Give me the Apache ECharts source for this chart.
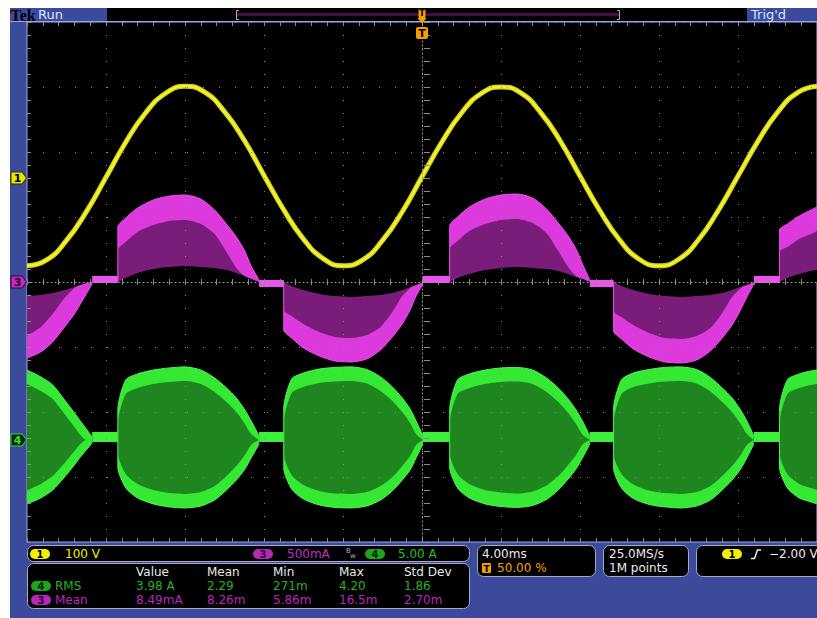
<!DOCTYPE html>
<html><head><meta charset="utf-8">
<script src="https://cdn.jsdelivr.net/npm/echarts@6/dist/echarts.min.js"></script>
<style>html,body{margin:0;padding:0;background:#fff;overflow:hidden}#c{width:817px;height:618px}</style>
</head><body><div id="c"></div><script>
// ---- time base: ms, trigger at 0, 4.00 ms/div ----
const timeMin = -20, timeMax = 20, timeDiv = 4;

// ---- channel 1 (yellow), volts relative to its marker, 100 V/div ----
const ch1Time = [-20,-19,-18,-17,-16,-15,-14,-13,-12,-11,-10,-9,-8,-7,-6,-5,-4,-3,-2,-1,0,1,2,3,4,5,6,7,8,9,10,11,12,13,14,15,16,17,18,19,20];
const ch1Volts = [-135,-126,-96,-52,1,55,100,130,141,132,102,58,4,-49,-94,-124,-135,-126,-96,-52,2,55,100,130,140,131,101,57,3,-50,-95,-125,-135,-125,-95,-50,3,56,101,131,141];

// ---- lobe sample times shared by ch3 and ch4 (null = gap) ----
const lobeTime = [
 -20.0,-19.3,-18.7,-18.1,-17.6,-17.3,-17.0,-16.7,null,
 -15.4,-15.4,-15.0,-14.4,-13.6,-12.8,-12.0,-11.2,-10.5,-9.9,-9.4,-9.0,-8.65,-8.25,null,
 -7.0,-7.0,-6.6,-6.0,-5.2,-4.4,-3.6,-2.8,-2.1,-1.5,-1.0,-0.6,-0.3,0.05,null,
 1.4,1.4,1.8,2.4,3.2,4.0,4.8,5.6,6.3,6.9,7.4,7.8,8.15,8.5,null,
 9.7,9.7,10.1,10.7,11.5,12.3,13.1,13.9,14.6,15.2,15.7,16.1,16.45,16.8,null,
 18.1,18.1,18.5,19.1,19.7,20.0];

// ---- channel 3 (magenta), mA, 500 mA/div ----
const ch3Outer = [
 -585,-538,-461,-346,-246,-169,-92,-15,null,
 0,423,492,569,631,661,669,638,554,446,346,246,123,15,null,
 0,-369,-431,-508,-569,-608,-615,-592,-523,-423,-323,-215,-108,-15,null,
 0,431,500,577,638,669,677,646,562,454,354,254,131,15,null,
 0,-377,-438,-515,-577,-615,-623,-600,-531,-431,-331,-223,-115,-15,null,
 0,400,446,508,554,577];
const ch3Inner = [
 -415,-346,-246,-123,-46,-15,0,0,null,
 0,246,308,385,438,469,477,446,369,231,108,46,15,0,null,
 0,-215,-261,-323,-385,-423,-431,-408,-346,-231,-108,-46,-15,0,null,
 0,254,315,392,446,477,485,454,377,238,115,46,15,0,null,
 0,-223,-269,-331,-392,-431,-438,-415,-354,-238,-115,-54,-15,0,null,
 0,231,269,331,369,392];
const ch3Lower = [
 -108,-100,-85,-62,-38,-23,-8,0,null,
 0,0,31,69,100,115,123,115,108,92,69,46,23,0,null,
 0,0,-31,-62,-92,-108,-115,-108,-100,-85,-62,-38,-23,0,null,
 0,0,31,62,92,108,115,108,100,85,62,38,23,0,null,
 0,0,-31,-62,-92,-108,-115,-108,-100,-85,-62,-38,-23,0,null,
 0,0,31,62,85,92];

// ---- channel 4 (green), A, 5.00 A/div ----
const ch4TopOuter = [
 5.38,4.85,4.23,3.08,2.08,1.46,0.85,0.23,null,
 0,2.31,4.62,5.08,5.38,5.54,5.62,5.38,4.77,4.0,3.23,2.38,1.46,0.31,null,
 0,2.38,4.69,5.15,5.46,5.58,5.62,5.42,4.85,4.08,3.23,2.38,1.46,0.31,null,
 0,2.31,4.62,5.08,5.38,5.54,5.58,5.38,4.77,4.0,3.15,2.31,1.38,0.31,null,
 0,2.38,4.62,5.15,5.42,5.58,5.62,5.42,4.81,4.0,3.23,2.38,1.46,0.31,null,
 0,2.31,4.62,5.08,5.31,5.38];
const ch4TopInner = [
 4.31,3.77,3.15,2.0,1.0,0.38,0,0,null,
 0,1.23,3.54,4.0,4.31,4.46,4.54,4.31,3.69,2.92,2.15,1.31,0.46,0,null,
 0,1.31,3.62,4.08,4.38,4.50,4.54,4.35,3.77,3.0,2.15,1.31,0.46,0,null,
 0,1.23,3.54,4.0,4.31,4.46,4.50,4.31,3.69,2.92,2.08,1.23,0.38,0,null,
 0,1.31,3.54,4.08,4.35,4.50,4.54,4.35,3.73,2.92,2.15,1.31,0.46,0,null,
 0,1.23,3.54,4.0,4.23,4.31];
const ch4BotOuter = [
 -4.92,-4.46,-3.85,-2.85,-1.92,-1.31,-0.77,-0.23,null,
 0,-2.08,-3.69,-4.46,-4.92,-5.15,-5.23,-5.08,-4.62,-3.85,-3.08,-2.31,-1.38,-0.31,null,
 0,-2.15,-3.77,-4.54,-5.0,-5.19,-5.23,-5.08,-4.62,-3.92,-3.08,-2.31,-1.38,-0.31,null,
 0,-2.08,-3.69,-4.46,-4.92,-5.12,-5.19,-5.04,-4.58,-3.85,-3.0,-2.23,-1.31,-0.31,null,
 0,-2.15,-3.69,-4.50,-4.96,-5.15,-5.23,-5.08,-4.62,-3.85,-3.08,-2.31,-1.38,-0.31,null,
 0,-2.08,-3.69,-4.46,-4.77,-4.92];
const ch4BotInner = [
 -3.85,-3.38,-2.77,-1.77,-0.85,-0.31,0,0,null,
 0,-1.0,-2.62,-3.38,-3.85,-4.08,-4.15,-4.0,-3.54,-2.77,-2.0,-1.23,-0.38,0,null,
 0,-1.08,-2.69,-3.46,-3.92,-4.12,-4.15,-4.0,-3.54,-2.85,-2.0,-1.23,-0.38,0,null,
 0,-1.0,-2.62,-3.38,-3.85,-4.04,-4.12,-3.96,-3.50,-2.77,-1.92,-1.15,-0.31,0,null,
 0,-1.08,-2.62,-3.42,-3.88,-4.08,-4.15,-4.0,-3.54,-2.77,-2.0,-1.23,-0.38,0,null,
 0,-1.0,-2.62,-3.38,-3.69,-3.85];

// ---- flat segments between lobes ----
const barTime = [-16.7,-15.4,null,-8.25,-7.0,null,0.05,1.4,null,8.5,9.7,null,16.8,18.1];
const ch3Bar = [19,19,null,-12,-12,null,19,19,null,-12,-12,null,19,19];
const ch4Bar = [0.23,0.23,null,0.23,0.23,null,0.23,0.23,null,0.23,0.23,null,0.23,0.23];

// ---- measurement readouts ----
const measHeaders = ['Value','Mean','Min','Max','Std Dev'];
const measRms = ['3.98 A','2.29','271m','4.20','1.86'];
const measMean = ['8.49mA','8.26m','5.86m','16.5m','2.70m'];

const chart = echarts.init(document.getElementById('c'), null, {renderer:'svg'});
const P = (t, v) => t.map((x, i) => [x, v[i]]);
const GRID_C = '#8c8c8c';
function area(t, v, yIdx, fill, line, lw) {
  return {type:'line', xAxisIndex:0, yAxisIndex:yIdx, data:P(t,v), showSymbol:false, symbol:'none',
    smooth:0.25, connectNulls:false, silent:true, animation:false,
    lineStyle:{color:line, width:lw}, areaStyle:{color:fill, opacity:1}};
}
function bar(t, v, yIdx, color, w) {
  return {type:'line', xAxisIndex:0, yAxisIndex:yIdx, data:P(t,v), showSymbol:false, symbol:'none',
    connectNulls:false, silent:true, animation:false, lineStyle:{color:color, width:w, cap:'butt'}};
}
function tickAxisX(gi) {
  return {type:'value', gridIndex:gi, min:timeMin, max:timeMax, interval:timeDiv, z:10,
    axisLine:{show:false}, axisTick:{show:false}, axisLabel:{show:false},
    minorTick:{show:false, splitNumber:5},
    splitLine:{show:true, lineStyle:{color:GRID_C, width:1}},
    minorSplitLine:{show:true, lineStyle:{color:GRID_C, width:1}}};
}
function tickAxisY(gi) {
  return {type:'value', gridIndex:gi, min:-4, max:4, interval:1, z:10,
    axisLine:{show:false}, axisTick:{show:false}, axisLabel:{show:false},
    minorTick:{show:false, splitNumber:5},
    splitLine:{show:true, lineStyle:{color:GRID_C, width:1}},
    minorSplitLine:{show:true, lineStyle:{color:GRID_C, width:1}}};
}
function dummyX(gi){ return {type:'value', gridIndex:gi, min:0, max:1, show:false}; }
function dummyY(gi){ return {type:'value', gridIndex:gi, min:0, max:1, show:false}; }

chart.setOption({
  backgroundColor:'#3c4a9c',
  animation:false,
  grid:[
    {left:27, top:22, width:800, height:520, show:true, backgroundColor:'#000', borderColor:'#94a8e8', borderWidth:1},
    {left:27, top:22, width:800, height:4},
    {left:27, top:538, width:800, height:4},
    {left:27, top:279, width:800, height:6},
    {left:27, top:22, width:4, height:520},
    {left:424, top:22, width:6, height:520}
  ],
  xAxis:[
    {type:'value', gridIndex:0, min:timeMin, max:timeMax, interval:timeDiv, z:10,
      axisLine:{show:true, onZero:true, onZeroAxisIndex:0, lineStyle:{color:'#9a9a9a', width:1, type:[1,3]}},
      axisTick:{show:false}, axisLabel:{show:false},
      splitLine:{show:true, lineStyle:{color:GRID_C, width:1, type:[1,12]}}},
    tickAxisX(1), tickAxisX(2), tickAxisX(3), dummyX(4), dummyX(5)
  ],
  yAxis:[
    {type:'value', gridIndex:0, min:-4, max:4, interval:1, z:10,
      axisLine:{show:true, onZero:true, onZeroAxisIndex:0, lineStyle:{color:'#9a9a9a', width:1, type:[1,3]}},
      axisTick:{show:false}, axisLabel:{show:false},
      splitLine:{show:true, lineStyle:{color:GRID_C, width:1, type:[1,15]}}},
    {type:'value', gridIndex:0, min:-560, max:240, show:false},
    {type:'value', gridIndex:0, min:-2000, max:2000, show:false},
    {type:'value', gridIndex:0, min:-7.85, max:32.15, show:false},
    dummyY(1), dummyY(2), dummyY(3), tickAxisY(4), tickAxisY(5)
  ],
  series:[
    area(lobeTime, ch4TopOuter, 3, '#34e834', '#50f850', 1),
    area(lobeTime, ch4BotOuter, 3, '#34e834', '#50f850', 1),
    area(lobeTime, ch4TopInner, 3, '#1f861f', 'rgba(0,0,0,0)', 0),
    area(lobeTime, ch4BotInner, 3, '#1f861f', 'rgba(0,0,0,0)', 0),
    bar(barTime, ch4Bar, 3, '#3cf03c', 10),
    area(lobeTime, ch3Outer, 2, '#dc3adc', '#ea50ea', 1),
    area(lobeTime, ch3Inner, 2, '#7a1c7a', 'rgba(0,0,0,0)', 0),
    area(lobeTime, ch3Lower, 2, '#000000', 'rgba(0,0,0,0)', 0),
    bar(barTime, ch3Bar, 2, '#f050f0', 7),
    {type:'line', xAxisIndex:0, yAxisIndex:1, data:P(ch1Time, ch1Volts), showSymbol:false, symbol:'none',
      smooth:0.5, silent:true, animation:false, lineStyle:{color:'#d2d214', width:5}},
    {type:'line', xAxisIndex:0, yAxisIndex:1, data:P(ch1Time, ch1Volts), showSymbol:false, symbol:'none',
      smooth:0.5, silent:true, animation:false, lineStyle:{color:'#f2f232', width:2.5}}
  ]
});

// ---- chrome: positions of markers from the axes ----
const y1 = chart.convertToPixel({yAxisIndex:1}, 0);
const y3 = chart.convertToPixel({yAxisIndex:2}, 0);
const y4 = chart.convertToPixel({yAxisIndex:3}, 0);
const xT = chart.convertToPixel({xAxisIndex:0}, 0);
const FONT = '"DejaVu Sans", Verdana, sans-serif';
function txt(x, y, s, color, size, weight, align, family) {
  return {type:'text', x:x, y:y, z:60, silent:true,
    style:{text:s, fill:color, font:(weight||'normal')+' '+(size||12)+'px '+(family||FONT), verticalAlign:'middle', align:align||'left'}};
}
function rect(x, y, w, h, r, fill, stroke, z) {
  return {type:'rect', z:z||40, silent:true, shape:{x:x, y:y, width:w, height:h, r:r||0}, style:{fill:fill, stroke:stroke||null, lineWidth:1}};
}
function badge(x, y, n, fill, color) {
  return [rect(x, y-5, 20, 10, 5, fill, null, 55), txt(x+10, y+0.5, n, color, 10, 'bold', 'center')];
}
function marker(y, n, fill, stroke, color) {
  return [{type:'polygon', z:55, silent:true, shape:{points:[[11,y-6],[22,y-6],[26.5,y],[22,y+6],[11,y+6]]}, style:{fill:fill, stroke:stroke, lineWidth:1}},
          txt(17.5, y+0.5, n, color, 11, 'bold', 'center')];
}
const ORANGE = '#f5a000';
const g = [];
// top bar
g.push(rect(107, 8, 640, 13, 0, '#000', null, 5));
g.push({type:'line', z:20, silent:true, shape:{x1:236, y1:14.5, x2:620, y2:14.5}, style:{stroke:'#4a0a44', lineWidth:3}});
g.push({type:'polyline', z:21, silent:true, shape:{points:[[239,10.5],[236.5,10.5],[236.5,19.5],[239,19.5]]}, style:{stroke:'#b0b0b0', fill:null, lineWidth:1}});
g.push({type:'polyline', z:21, silent:true, shape:{points:[[617,10.5],[619.5,10.5],[619.5,19.5],[617,19.5]]}, style:{stroke:'#b0b0b0', fill:null, lineWidth:1}});
g.push({type:'line', z:21, silent:true, shape:{x1:10, y1:21.5, x2:817, y2:21.5}, style:{stroke:'#94a8e8', lineWidth:1}});
g.push(txt(10.5, 15, 'Tek', '#000', 16, 'bold', 'left', '"Liberation Serif", serif'));
g.push(txt(38, 14.5, 'Run', '#dde4ff', 13));
g.push(txt(751, 14.5, "Trig'd", '#dde4ff', 13));
// trigger position markers
g.push(rect(xT-3.5, 9, 7, 9, 1, ORANGE, null, 58));
g.push(txt(xT, 13.8, 'T', '#000', 8, 'bold', 'center'));
g.push({type:'polygon', z:58, silent:true, shape:{points:[[xT-4.5,18],[xT+4.5,18],[xT,23.5]]}, style:{fill:ORANGE}});
g.push(rect(xT-6, 27, 12, 12, 2, ORANGE, null, 58));
g.push(txt(xT, 33.5, 'T', '#000', 11, 'bold', 'center'));
// channel markers
g.push(...marker(y1, '1', '#e6e600', '#303000', '#000'));
g.push(...marker(y3, '3', '#c828c8', '#300030', '#200020'));
g.push(...marker(y4, '4', '#062406', '#30e030', '#30e030'));
// panels
g.push(rect(27.5, 545.5, 442, 16, 6, '#000', '#a4aac4'));
g.push(rect(27.5, 563.5, 442, 45, 6, '#000', '#a4aac4'));
g.push(rect(477.5, 545.5, 118, 31, 6, '#000', '#a4aac4'));
g.push(rect(603.5, 545.5, 85, 31, 6, '#000', '#a4aac4'));
g.push(rect(696.5, 545.5, 140, 31, 6, '#000', '#a4aac4'));
// panel 1
g.push(...badge(30, 554, '1', '#f0f000', '#000'));
g.push(txt(65, 554, '100 V', '#f0f000', 12));
g.push(...badge(253, 554, '3', '#b828b8', '#300030'));
g.push(txt(287, 554, '500mA', '#c030c0', 12));
g.push(txt(346, 551, 'B', '#b8a8d0', 7));
g.push(txt(350, 556, 'w', '#b8a8d0', 7));
g.push(...badge(365, 554, '4', '#1aa81a', '#002000'));
g.push(txt(398, 554, '5.00 A', '#22c022', 12));
// panel 2: measurements
const colX = [136, 207, 273, 339, 404];
measHeaders.forEach((s, i) => g.push(txt(colX[i], 572, s, '#e8e8e8', 12)));
g.push(...badge(31, 586, '4', '#1aa81a', '#002000'));
g.push(txt(55, 586, 'RMS', '#22b422', 12));
measRms.forEach((s, i) => g.push(txt(colX[i], 586, s, '#22b422', 12)));
g.push(...badge(31, 600, '3', '#b828b8', '#300030'));
g.push(txt(55, 600, 'Mean', '#b828b8', 12));
measMean.forEach((s, i) => g.push(txt(colX[i], 600, s, '#b828b8', 12)));
// panel 3
g.push(txt(482, 554, '4.00ms', '#ececec', 12));
g.push(rect(482, 563, 9, 10, 1, ORANGE, null, 55));
g.push(txt(486.5, 568.5, 'T', '#000', 9, 'bold', 'center'));
g.push(txt(497, 568, '50.00 %', ORANGE, 12));
// panel 4
g.push(txt(609, 554, '25.0MS/s', '#ececec', 12));
g.push(txt(609, 568, '1M points', '#ececec', 12));
// panel 5
g.push(...badge(722, 554, '1', '#f0f000', '#000'));
g.push({type:'polyline', z:60, silent:true, shape:{points:[[751,558.5],[754.5,558.5],[757.5,550],[761,550]]}, style:{stroke:'#ececec', fill:null, lineWidth:1.5}});
g.push(txt(769, 554, '\u22122.00 V', '#ececec', 12));
// outer white margins of the screenshot
g.push(rect(0, 0, 10, 618, 0, '#fff', null, 100));
g.push(rect(0, 0, 817, 8, 0, '#fff', null, 100));
chart.setOption({graphic:{elements:g}});
</script></body></html>
